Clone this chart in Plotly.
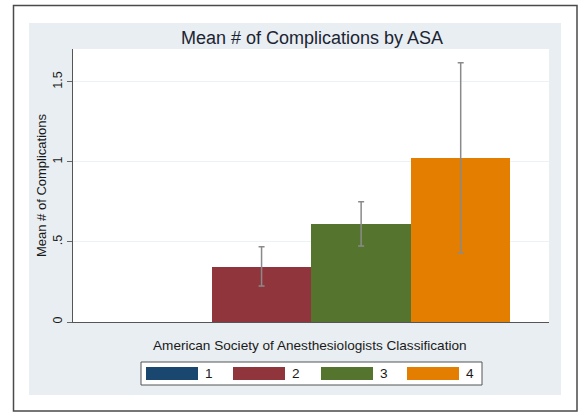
import plotly.graph_objects as go

# ASA classes and mean complications with 95% CI bounds (class 1 has no CI)
asa_classes = ["1", "2", "3", "4"]
mean_complications = [0.0, 0.346, 0.6125, 1.027]
ci_lower = [None, 0.225, 0.475, 0.433]
ci_upper = [None, 0.470, 0.752, 1.620]
bar_colors = ["#1a476f", "#90353b", "#55752f", "#e37e00"]
y_tick_values = [0, 0.5, 1, 1.5]
y_tick_labels = ["0", ".5", "1", "1.5"]

W, H = 580, 413
L, R, T, B = 73, 549, 49, 322  # plot area in pixels

def px(x):
    return (x - L) / (R - L)

def py(y):
    return (B - y) / (B - T)

x_pos = [i + 1 for i in range(len(asa_classes))]

fig = go.Figure()
fig.add_trace(go.Bar(
    x=x_pos,
    y=mean_complications,
    width=1.0,
    marker=dict(color=bar_colors, line=dict(width=0)),
    showlegend=False,
    hoverinfo="skip",
))

# confidence-interval caps, only for classes that have a CI
ci_idx = [i for i, u in enumerate(ci_upper) if u is not None]
fig.add_trace(go.Scatter(
    x=[x_pos[i] for i in ci_idx],
    y=[mean_complications[i] for i in ci_idx],
    mode="markers",
    marker=dict(size=1, opacity=0),
    error_y=dict(type="data", symmetric=False,
                 array=[ci_upper[i] - mean_complications[i] for i in ci_idx],
                 arrayminus=[mean_complications[i] - ci_lower[i] for i in ci_idx],
                 color="#8a8a8a", thickness=1.5, width=3),
    showlegend=False,
    hoverinfo="skip",
))

font_family = "Liberation Sans, Arial, Helvetica, sans-serif"
shapes = [
    # outer frame
    dict(type="rect", xref="paper", yref="paper", x0=px(13.5), x1=px(577), y0=py(5.5), y1=py(411),
         line=dict(color="#4a4a4a", width=1.5), fillcolor="white", layer="below"),
    # graph region
    dict(type="rect", xref="paper", yref="paper", x0=px(29), x1=px(561), y0=py(23), y1=py(395),
         line=dict(width=0), fillcolor="#e8eef1", layer="below"),
    # plot region
    dict(type="rect", xref="x domain", yref="y domain", x0=0, x1=1, y0=0, y1=1,
         line=dict(width=0), fillcolor="white", layer="below"),
    # legend box
    dict(type="rect", xref="paper", yref="paper", x0=px(141), x1=px(482), y0=py(362), y1=py(385),
         line=dict(color="#555555", width=1), fillcolor="white", layer="above"),
]

annotations = [
    dict(text="American Society of Anesthesiologists Classification", xref="paper", yref="paper",
         x=px(310), y=py(345), showarrow=False, xanchor="center", yanchor="middle",
         font=dict(family=font_family, size=13.6, color="#1a1a1a")),
]

swatch_left = [146, 233, 321, 407]
for i, (lab, col) in enumerate(zip(asa_classes, bar_colors)):
    x0 = swatch_left[i]
    shapes.append(dict(type="rect", xref="paper", yref="paper", x0=px(x0), x1=px(x0 + 52),
                       y0=py(367), y1=py(380), line=dict(width=0), fillcolor=col, layer="above"))
    annotations.append(dict(text=lab, xref="paper", yref="paper", x=px(x0 + 63), y=py(373.5),
                            showarrow=False, xanchor="center", yanchor="middle",
                            font=dict(family=font_family, size=13.6, color="#1a1a1a")))

fig.update_layout(
    width=W, height=H,
    margin=dict(l=L, r=W - R, t=T, b=H - B, pad=0),
    paper_bgcolor="white",
    plot_bgcolor="rgba(0,0,0,0)",
    bargap=0,
    title=dict(text="Mean # of Complications by ASA", xref="container", x=312 / W, xanchor="center",
               y=1 - 38 / H, yanchor="middle",
               font=dict(family=font_family, size=18, color="#1c2433")),
    font=dict(family=font_family, color="#1a1a1a"),
    xaxis=dict(range=[0.106, 4.887], showticklabels=False, ticks="", showgrid=False,
               zeroline=False, showline=True, linecolor="#555555", linewidth=1),
    yaxis=dict(range=[0, 1.706], tickvals=y_tick_values, ticktext=y_tick_labels,
               tickangle=-90, ticks="outside", ticklen=5, tickcolor="#666666",
               tickfont=dict(size=12.5, color="#1a1a1a"),
               showgrid=True, gridcolor="#edf2f4", gridwidth=1, zeroline=False,
               showline=True, linecolor="#555555", linewidth=1,
               title=dict(text="Mean # of Complications", standoff=1,
                          font=dict(size=13, color="#1a1a1a"))),
    shapes=shapes,
    annotations=annotations,
)

fig.write_html("out.html")
